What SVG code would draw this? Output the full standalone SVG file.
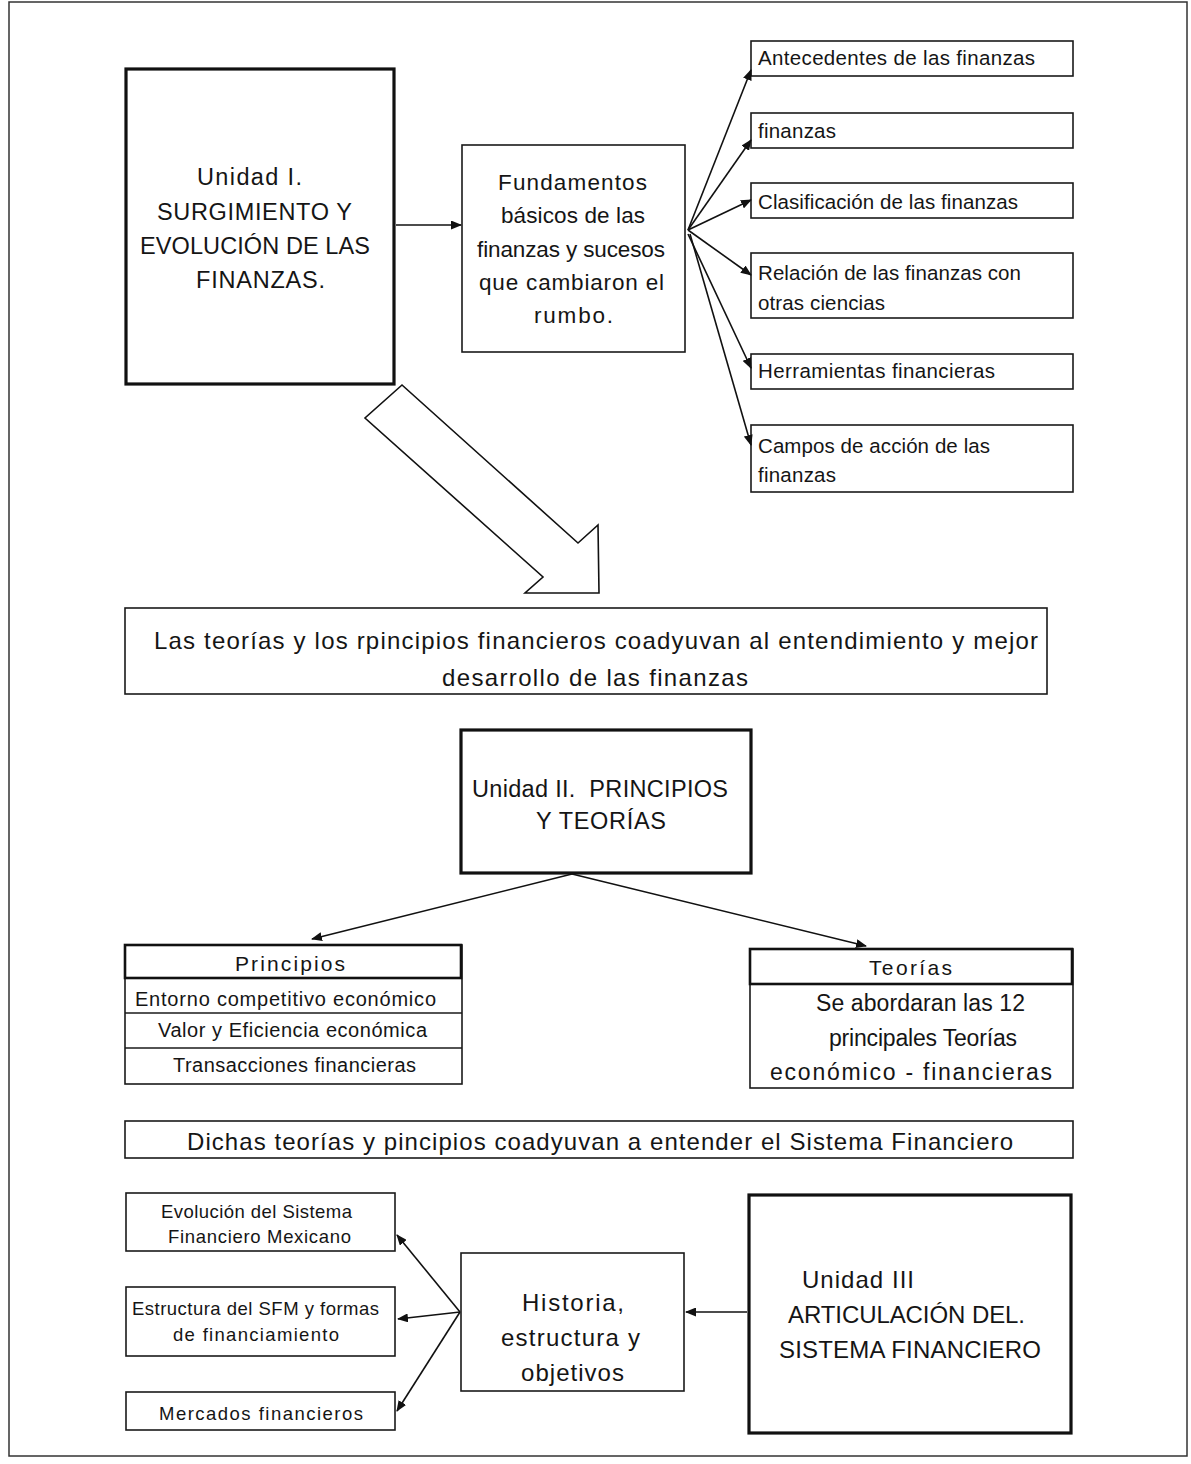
<svg xmlns="http://www.w3.org/2000/svg" width="1191" height="1464" viewBox="0 0 1191 1464">
<defs>
<style>
text{font-family:"Liberation Sans","Open Sans",sans-serif;fill:#151515}
.box{fill:#fff;stroke:#1a1a1a;stroke-width:1.6}
.thick{fill:#fff;stroke:#111;stroke-width:3.2}
.con{stroke:#111;stroke-width:1.6;fill:none;marker-end:url(#ah)}
.u1{font-size:23.5px}
.fu{font-size:22.5px}
.rb{font-size:20.5px}
.lt{font-size:24px}
.u2{font-size:23.5px}
.pr{font-size:20px}
.ph{font-size:21px}
.te{font-size:23px}
.sm{font-size:18.5px}
.hi{font-size:24px}
.u3{font-size:24px}
</style>
<marker id="ah" markerWidth="11" markerHeight="9" refX="10" refY="4.5" orient="auto" markerUnits="userSpaceOnUse"><path d="M0,0 L11,4.5 L0,9 Z" fill="#111"/></marker>
</defs>
<rect x="0" y="0" width="1191" height="1464" fill="#fff"/>
<rect x="9" y="2" width="1178" height="1454" fill="none" stroke="#333" stroke-width="1.5"/>

<g id="unidad1">
<rect class="thick" x="126" y="69" width="268" height="315"/>
<text class="u1" x="197" y="185" textLength="105">Unidad I.</text>
<text class="u1" x="157" y="220" textLength="195">SURGIMIENTO Y</text>
<text class="u1" x="140" y="254" textLength="230">EVOLUCIÓN DE LAS</text>
<text class="u1" x="196" y="288" textLength="129">FINANZAS.</text>
</g>
<g id="fundamentos">
<rect class="box" x="462" y="145" width="223" height="207"/>
<text class="fu" x="498" y="190" textLength="149">Fundamentos</text>
<text class="fu" x="501" y="223" textLength="144">básicos de las</text>
<text class="fu" x="477" y="257" textLength="188">finanzas y sucesos</text>
<text class="fu" x="479" y="290" textLength="185">que cambiaron el</text>
<text class="fu" x="534" y="323" textLength="79">rumbo.</text>
</g>
<g id="antecedentes"><rect class="box" x="751" y="41" width="322" height="35"/><text class="rb" x="758" y="65" textLength="277">Antecedentes de las finanzas</text></g>
<g id="finanzas"><rect class="box" x="751" y="113" width="322" height="35"/><text class="rb" x="758" y="138" textLength="78">finanzas</text></g>
<g id="clasificacion"><rect class="box" x="751" y="183" width="322" height="35"/><text class="rb" x="758" y="209" textLength="260">Clasificación de las finanzas</text></g>
<g id="relacion"><rect class="box" x="751" y="253" width="322" height="65"/><text class="rb" x="758" y="280" textLength="263">Relación de las finanzas con</text><text class="rb" x="758" y="310" textLength="127">otras ciencias</text></g>
<g id="herramientas"><rect class="box" x="751" y="354" width="322" height="35"/><text class="rb" x="758" y="378" textLength="237">Herramientas financieras</text></g>
<g id="campos"><rect class="box" x="751" y="425" width="322" height="67"/><text class="rb" x="758" y="453" textLength="232">Campos de acción de las</text><text class="rb" x="758" y="482" textLength="78">finanzas</text></g>

<g id="flecha-grande">
<polygon points="402,385 365,418 543,577 525,593 599,593 598,525 578,543" fill="#fff" stroke="#111" stroke-width="1.6" stroke-linejoin="miter"/>
</g>

<g id="teorias-principios-texto">
<rect class="box" x="125" y="608" width="922" height="86"/>
<text class="lt" x="154" y="649" textLength="884">Las teorías y los rpincipios financieros coadyuvan al entendimiento y mejor</text>
<text class="lt" x="442" y="686" textLength="306">desarrollo de las finanzas</text>
</g>

<g id="unidad2">
<rect class="thick" x="461" y="730" width="290" height="143"/>
<text class="u2" x="472" y="797" textLength="256" xml:space="preserve">Unidad II.  PRINCIPIOS</text>
<text class="u2" x="536" y="829" textLength="130">Y TEORÍAS</text>
</g>

<g id="principios">
<rect class="box" x="125" y="945" width="337" height="139"/>
<rect x="125" y="945" width="336" height="33" fill="none" stroke="#111" stroke-width="2.6"/>
<line x1="125" y1="1013" x2="462" y2="1013" stroke="#1a1a1a" stroke-width="1.4"/>
<line x1="125" y1="1048" x2="462" y2="1048" stroke="#1a1a1a" stroke-width="1.4"/>
<text class="ph" x="235" y="971" textLength="110">Principios</text>
<text class="pr" x="135" y="1006" textLength="301">Entorno competitivo económico</text>
<text class="pr" x="158" y="1037" textLength="269">Valor y Eficiencia económica</text>
<text class="pr" x="173" y="1072" textLength="243">Transacciones financieras</text>
</g>

<g id="teorias">
<rect class="box" x="750" y="949" width="323" height="139"/>
<rect x="750" y="949" width="322" height="35" fill="none" stroke="#111" stroke-width="2.6"/>
<text class="ph" x="869" y="975" textLength="83">Teorías</text>
<text class="te" x="816" y="1011" textLength="209">Se abordaran las 12</text>
<text class="te" x="829" y="1046" textLength="188">principales Teorías</text>
<text class="te" x="770" y="1080" textLength="282">económico - financieras</text>
</g>

<g id="dichas">
<rect class="box" x="125" y="1121" width="948" height="37"/>
<text class="lt" x="187" y="1150" textLength="826">Dichas teorías y pincipios coadyuvan a entender el Sistema Financiero</text>
</g>

<g id="evolucion"><rect class="box" x="126" y="1193" width="269" height="58"/><text class="sm" x="161" y="1218" textLength="191">Evolución del Sistema</text><text class="sm" x="168" y="1243" textLength="183">Financiero Mexicano</text></g>
<g id="estructura"><rect class="box" x="126" y="1287" width="269" height="69"/><text class="sm" x="132" y="1315" textLength="247">Estructura del SFM y formas</text><text class="sm" x="173" y="1341" textLength="166">de financiamiento</text></g>
<g id="mercados"><rect class="box" x="126" y="1392" width="269" height="38"/><text class="sm" x="159" y="1420" textLength="204">Mercados financieros</text></g>

<g id="historia">
<rect class="box" x="461" y="1253" width="223" height="138"/>
<text class="hi" x="522" y="1311" textLength="102">Historia,</text>
<text class="hi" x="501" y="1346" textLength="139">estructura y</text>
<text class="hi" x="521" y="1381" textLength="103">objetivos</text>
</g>

<g id="unidad3">
<rect class="thick" x="749" y="1195" width="322" height="238"/>
<text class="u3" x="802" y="1288" textLength="112">Unidad III</text>
<text class="u3" x="788" y="1323" textLength="237">ARTICULACIÓN DEL.</text>
<text class="u3" x="779" y="1358" textLength="262">SISTEMA FINANCIERO</text>
</g>

<g id="conectores">
<line class="con" x1="396" y1="225" x2="461" y2="225"/>
<line class="con" x1="688" y1="230" x2="751" y2="70"/>
<line class="con" x1="688" y1="230" x2="751" y2="140"/>
<line class="con" x1="688" y1="230" x2="751" y2="200"/>
<line class="con" x1="688" y1="230" x2="751" y2="275"/>
<line class="con" x1="688" y1="234" x2="751" y2="368"/>
<line class="con" x1="690" y1="234" x2="751" y2="445"/>
<line class="con" x1="572" y1="874" x2="312" y2="939"/>
<line class="con" x1="572" y1="874" x2="866" y2="946"/>
<line class="con" x1="747" y1="1312" x2="686" y2="1312"/>
<line class="con" x1="460" y1="1312" x2="397" y2="1235"/>
<line class="con" x1="460" y1="1312" x2="398" y2="1319"/>
<line class="con" x1="460" y1="1312" x2="397" y2="1411"/>
</g>
</svg>
